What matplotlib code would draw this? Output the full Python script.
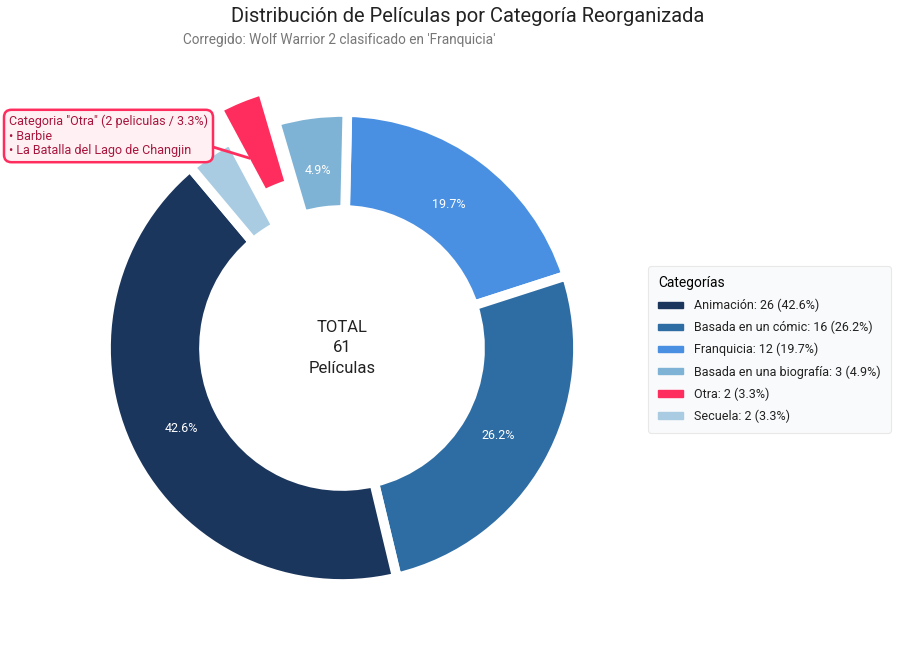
import matplotlib
matplotlib.use("Agg")
import matplotlib.pyplot as plt
from matplotlib.patches import Patch

plt.rcParams['font.family'] = ['Roboto', 'DejaVu Sans']

# data (clockwise from top)
categories = ['Franquicia', 'Basada en un cómic', 'Animación', 'Secuela', 'Otra', 'Basada en una biografía']
counts = [12, 16, 26, 2, 2, 3]
colors = ['#4a90e2', '#2e6da4', '#1b365d', '#a9cce3', '#ff2d5e', '#7fb3d5']
pull = [0, 0, 0, 0, 0.17, 0]

legend_order = ['Animación', 'Basada en un cómic', 'Franquicia', 'Basada en una biografía', 'Otra', 'Secuela']
otra_movies = ['Barbie', 'La Batalla del Lago de Changjin']

total = sum(counts)
fig = plt.figure(figsize=(9, 6.46), dpi=100)

ax = fig.add_axes([82 / 900, 38 / 646, 520 / 900, 520 / 646])


def pct_label(p):
    return f'{p:.1f}%' if p > 4 else ''


wedges, texts, autotexts = ax.pie(
    counts, colors=colors, explode=pull, radius=1.18, startangle=88.7,
    counterclock=False, autopct=pct_label, pctdistance=0.76,
    wedgeprops=dict(width=0.49, edgecolor='white', linewidth=7),
    textprops=dict(color='white', fontsize=9))
for w in wedges:
    w.set_clip_on(False)
ax.set_xlim(-1.3, 1.3)
ax.set_ylim(-1.3, 1.3)
ax.set_aspect('equal')
ax.axis('off')

ax.text(0, 0, f'TOTAL\n{total}\nPelículas', ha='center', va='center',
        fontsize=12, color='#222222', linespacing=1.45)

# annotation for "Otra"
otra_idx = categories.index('Otra')
otra_pct = counts[otra_idx] / total * 100
note = f'Categoria "Otra" ({counts[otra_idx]} peliculas / {otra_pct:.1f}%)\n' + \
    '\n'.join('• ' + m for m in otra_movies)
fig.text(9 / 900, 1 - 136 / 646, note, ha='left', va='center', fontsize=9,
         color='#a8153c', linespacing=1.15,
         bbox=dict(boxstyle='round,pad=0.4,rounding_size=0.6', fc='#fff0f3',
                   ec='#ff2d5e', lw=1.8))
fig.add_artist(plt.Line2D([213 / 900, 249 / 900], [1 - 147 / 646, 1 - 158 / 646],
                          color='#ff2d5e', lw=2, transform=fig.transFigure))

# titles
fig.text(468 / 900, 1 - 17 / 646, 'Distribución de Películas por Categoría Reorganizada',
         ha='center', va='center', fontsize=14.5, color='#222222')
fig.text(183 / 900, 1 - 40 / 646, "Corregido: Wolf Warrior 2 clasificado en 'Franquicia'",
         ha='left', va='center', fontsize=9.8, color='#777777')

# legend
handles = []
for name in legend_order:
    i = categories.index(name)
    handles.append(Patch(color=colors[i],
                         label=f'{name}: {counts[i]} ({counts[i] / total * 100:.1f}%)'))
leg = fig.legend(handles=handles, title='Categorías', loc='upper left',
                 bbox_to_anchor=(648 / 900, 1 - 266 / 646), fontsize=9,
                 title_fontsize=10, frameon=True, fancybox=True,
                 handlelength=2.0, handleheight=0.4, labelspacing=0.7,
                 borderpad=0.8, handletextpad=0.9, alignment='left',
                 borderaxespad=0)
leg.get_frame().set_facecolor('#f8f9fa')
leg.get_frame().set_edgecolor('#e3e3e3')
leg.get_frame().set_linewidth(0.8)
for t in leg.get_texts():
    t.set_color('#222222')

fig.savefig('out.png', dpi=100, facecolor='white')
